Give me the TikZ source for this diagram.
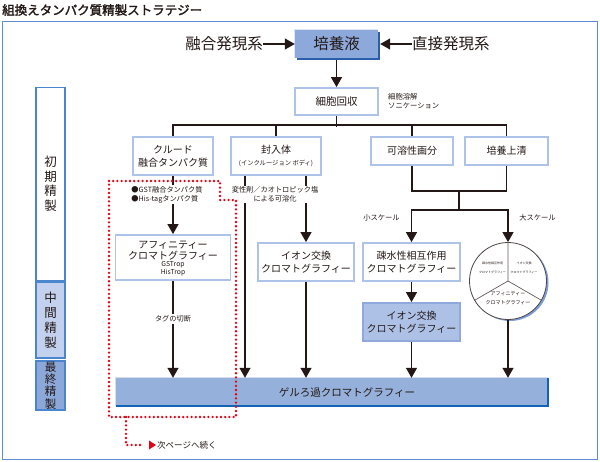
\documentclass[tikz,border=0pt]{standalone}
\usepackage{fontspec}
\setmainfont{Noto Sans CJK JP}[AutoFakeBold=2]
\usetikzlibrary{arrows.meta,calc}
\definecolor{ink}{HTML}{231815}
\definecolor{bordc}{HTML}{AEC3E9}
\definecolor{framec}{HTML}{5A8ED2}
\definecolor{cultfill}{HTML}{8DA9DB}
\definecolor{cultdark}{HTML}{2A5FAB}
\definecolor{gelfill}{HTML}{95B0DA}
\definecolor{geldark}{HTML}{1263B5}
\definecolor{ionfill}{HTML}{ADC1E7}
\definecolor{ionbord}{HTML}{8FA9DA}
\definecolor{sfill}{HTML}{C3D1EE}
\definecolor{sdark}{HTML}{8CA8D8}
\definecolor{stagebord}{HTML}{4A85CE}
\definecolor{redd}{HTML}{E60012}
\definecolor{pieshade}{HTML}{7C9DD6}
\newcommand{\fsz}[2]{\fontsize{#1}{#2}\selectfont}
\begin{document}
\begin{tikzpicture}[x=1pt,y=-1pt,
  every node/.style={text=ink, inner sep=0pt, font=\fsz{10}{13}},
  wbox/.style={draw=bordc, line width=1.8pt, fill=white, align=center},
  stagebox/.style={draw=stagebord, line width=1.2pt, align=center, minimum width=29pt},
  conn/.style={draw=ink, line width=1.3pt},
  arr/.style={conn, -{Triangle[width=11pt,length=10pt]}},
  annot/.style={fill=white, inner sep=1pt, font=\fsz{7.2}{8.8}},
  reddot/.style={draw=redd, line width=2.6pt, line cap=round, dash pattern=on 0pt off 4.2pt},
  pietext/.style={align=center, font=\fsz{3}{9.5}}
]
\useasboundingbox (0,0) rectangle (600,461);

\node[anchor=west, font=\fsz{12.5}{14}\bfseries] (title) at (2,10) {組換えタンパク質精製ストラテジー};
\draw[framec, line width=1pt] (2,21) rectangle (597,459);

% stage bars
\node[stagebox, fill=white, minimum height=193pt, font=\fsz{12.5}{14.5}] (s1) at (50.5,184) {初\\期\\精\\製};
\node[stagebox, fill=sfill, minimum height=76pt, font=\fsz{12.5}{15}] (s2) at (50.5,320) {中\\間\\精\\製};
\node[stagebox, fill=sdark, minimum height=49pt, font=\fsz{11.5}{12.4}] (s3) at (50.5,385.5) {最\\終\\精\\製};

% top
\node[fill=cultdark, minimum width=83pt, minimum height=28pt] (cultsh) at (338.5,46) {};
\node[fill=cultfill, minimum width=83pt, minimum height=28pt, font=\fsz{15.5}{17}] (cult) at (336.5,44) {培養液};
\draw[white!70!cultfill, line width=1pt] (cult.south west) -- (cult.north west) -- (cult.north east);
\node[anchor=east, font=\fsz{15.5}{17}] (fus) at (263,44) {融合発現系};
\node[anchor=west, font=\fsz{15.5}{17}] (dir) at (412,44) {直接発現系};
\draw[arr] (fus.east) -- (cult.west);
\draw[arr] (dir.west) -- ([xshift=2pt]cult.east);

\node[wbox, minimum width=83pt, minimum height=27pt, font=\fsz{10.5}{12}] (recov) at (336.5,101.5) {細胞回収};
\node[anchor=west, align=left, font=\fsz{7.3}{9.5}] (lysis) at (388,101) {細胞溶解\\ソニケーション};
\draw[arr] (cultsh.south -| cult.south) -- (recov.north);

% second row
\node[wbox, minimum width=80pt, minimum height=38pt] (crude) at (173,156) {クルード\\融合タンパク質};
\node[wbox, minimum width=90pt, minimum height=38pt] (incl) at (276,156) {封入体\\[-1pt]{\fsz{6.3}{8}(インクルージョン ボディ)}};
\node[wbox, minimum width=82pt, minimum height=28pt] (sol) at (412,151) {可溶性画分};
\node[wbox, minimum width=83pt, minimum height=28pt] (sup) at (506.5,151) {培養上清};

\draw[conn] (recov.south) -- ++(0,11);
\draw[conn] (crude.north) -- ++(0,-11) -| (sup.north);
\draw[conn] (incl.north) -- ++(0,-11);
\draw[conn] (sol.north) -- ++(0,-11);

% chromatography boxes
\node[wbox, minimum width=115pt, minimum height=45pt] (afn) at (173,257.5) {};
\node[font=\fsz{10}{11}, align=center] (afnt) at (173,250.5) {アフィニティー\\クロマトグラフィー};
\node[font=\fsz{6.8}{8}, align=center] (afns) at (173,269) {GSTrop\\HisTrop};
\node[wbox, minimum width=96pt, minimum height=38pt] (ion1) at (306,262) {イオン交換\\クロマトグラフィー};
\node[wbox, minimum width=97pt, minimum height=38pt] (hyd) at (411.5,262) {疎水性相互作用\\クロマトグラフィー};
\node[draw=ionbord, line width=1.8pt, fill=ionfill, align=center, minimum width=97pt, minimum height=38pt] (ion2) at (411.5,322) {イオン交換\\クロマトグラフィー};

% pie
\node[circle, fill=pieshade, minimum size=77pt] (pieshadow) at (510,282.5) {};
\node[circle, draw=ink!80, line width=0.8pt, fill=white, minimum size=77pt] (pie) at (508,281) {};
\draw[ink!70, line width=0.7pt] (pie.north) -- (pie.center) -- (pie.210);
\draw[ink!70, line width=0.7pt] (pie.center) -- (pie.330);
\node[pietext] (pie1) at (492.5,268) {疎水性相互作用\\クロマトグラフィー};
\node[pietext] (pie2) at (524,268) {イオン交換\\クロマトグラフィー};
\node[align=center, font=\fsz{5}{9}] (pie3) at (508,298.5) {アフィニティー\\クロマトグラフィー};

% gel
\node[fill=gelfill, minimum width=432pt, minimum height=28pt] (gel) at (332,392) {};
\draw[white!60!gelfill, line width=1.2pt] (gel.south west) -- (gel.north west) -- (gel.north east);
\draw[geldark, line width=2.5pt] (gel.south west) -- (gel.south east) -- (gel.north east);
\node[font=\fsz{10.5}{12}] (gelt) at (347,392) {ゲルろ過クロマトグラフィー};

% merge of soluble / supernatant
\coordinate (m1) at (459,191);
\coordinate (m2) at (459,210);
\draw[conn] (sol.south) |- (m1) -| (sup.south);
\draw[conn] (m1) -- (m2);
\draw[arr] (m2) -| (hyd.north);
\draw[arr] (m2) -| (pie.north);
\node[font=\fsz{7.3}{9}] (small) at (381.5,218) {小スケール};
\node[font=\fsz{7.3}{9}] (large) at (537.5,218) {大スケール};

% vertical connectors
\draw[arr] (crude.south) -- (afn.north);
\draw[arr] ([xshift=-31pt]incl.south) -- ([xshift=-31pt]incl.south |- gel.north);
\draw[arr] (ion1.north |- incl.south) -- (ion1.north);
\draw[arr] (afn.south) -- (afn.south |- gel.north);
\draw[arr] (ion1.south) -- (ion1.south |- gel.north);
\draw[arr] (hyd.south) -- (ion2.north);
\draw[arr] (ion2.south) -- (ion2.south |- gel.north);
\draw[arr] (pie.south) -- (pie.south |- gel.north);

% annotations over lines
\node[annot, align=left] (gstnote) at (167,194.5) {●GST融合タンパク質\\●His-tagタンパク質};
\node[annot, align=center] (solnote) at (275,194.5) {変性剤／カオトロピック塩\\による可溶化};
\node[annot, inner sep=2pt] (tag) at (173,319) {タグの切断};

% red dotted region
\draw[reddot] (109,181) -- (220,181) -- (220,200) -- (236,200) -- (236,417) -- (109,417) -- cycle;
\coordinate (cont) at (140,445);
\draw[reddot] (126,417) |- (cont);
\fill[redd] (149,440.5) -- (156,445) -- (149,449.5) -- cycle;
\node[anchor=west, font=\fsz{8.5}{10}] (next) at (157,445) {次ページへ続く};
\end{tikzpicture}
\end{document}
